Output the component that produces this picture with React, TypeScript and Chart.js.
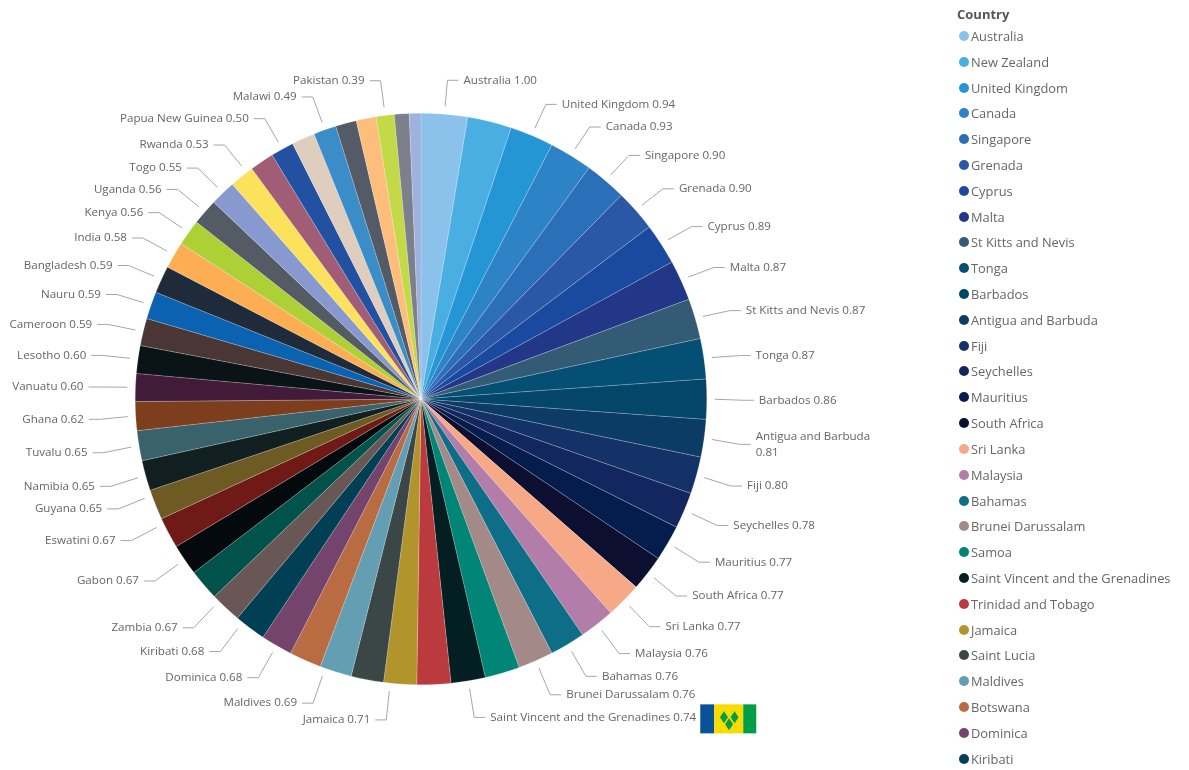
import React, { useEffect, useRef } from "react";
import { Chart, registerables } from "chart.js";

Chart.register(...registerables);

const countries = [
  "Australia", "New Zealand", "United Kingdom", "Canada", "Singapore", "Grenada", "Cyprus", "Malta",
  "St Kitts and Nevis", "Tonga", "Barbados", "Antigua and Barbuda", "Fiji", "Seychelles", "Mauritius",
  "South Africa", "Sri Lanka", "Malaysia", "Bahamas", "Brunei Darussalam", "Samoa",
  "Saint Vincent and the Grenadines", "Trinidad and Tobago", "Jamaica", "Saint Lucia", "Maldives",
  "Botswana", "Dominica", "Kiribati", "Zambia", "Unnamed slice A", "Gabon", "Eswatini", "Guyana",
  "Namibia", "Tuvalu", "Ghana", "Vanuatu", "Lesotho", "Cameroon", "Nauru", "Bangladesh", "India",
  "Kenya", "Uganda", "Togo", "Rwanda", "Unnamed slice B", "Papua New Guinea", "Unnamed slice C",
  "Malawi", "Unnamed slice D", "Unnamed slice E", "Pakistan", "Unnamed slice F", "Unnamed slice G",
];

const scores = [
  1.0, 0.95, 0.94, 0.93, 0.9, 0.9, 0.89, 0.87, 0.87, 0.87, 0.86, 0.81, 0.8, 0.78, 0.77, 0.77, 0.77,
  0.76, 0.76, 0.76, 0.75, 0.74, 0.73, 0.71, 0.7, 0.69, 0.69, 0.68, 0.68, 0.67, 0.67, 0.67, 0.67,
  0.65, 0.65, 0.65, 0.62, 0.6, 0.6, 0.59, 0.59, 0.59, 0.58, 0.56, 0.56, 0.55, 0.53, 0.52, 0.5, 0.5,
  0.49, 0.45, 0.43, 0.39, 0.32, 0.25,
];

const colors = [
  "#8AC2EC", "#4AAEE3", "#2496D6", "#2E82C6", "#2B6FB9", "#2B57A7", "#1A4A9F", "#233789", "#345B75",
  "#064F74", "#04456A", "#0C3B66", "#133267", "#14265F", "#041D4D", "#0C0F30", "#F7A886", "#B27EA9",
  "#0E6E87", "#A38A89", "#008577", "#041F22", "#BA3A3E", "#B2942D", "#3B4647", "#649EB3", "#B96B42",
  "#74446C", "#003F54", "#695755", "#00524A", "#03090C", "#701A18", "#6E5A23", "#121F20", "#3A626C",
  "#7C3E1D", "#421B3B", "#0A1316", "#4A3634", "#0A62B0", "#1F2B3B", "#FDAE53", "#ACD035", "#555B65",
  "#8799CF", "#FBE15C", "#A15D75", "#2351A2", "#DFCDBE", "#3A8DC7", "#545A66", "#FDBE7C", "#C3D948",
  "#7B808B", "#A0B1DF",
];

const unlabelled = [
  "New Zealand", "Samoa", "Trinidad and Tobago", "Saint Lucia", "Botswana", "Unnamed slice A",
  "Unnamed slice B", "Unnamed slice C", "Unnamed slice D", "Unnamed slice E", "Unnamed slice F",
  "Unnamed slice G",
];

// Where the reference spreads crowded labels apart: degrees clockwise from the slice's middle.
const spreadNames = ["Jamaica", "Maldives", "Kiribati", "Zambia", "Eswatini", "Guyana", "Rwanda"];
const spreadDegrees = [2.0, 2.2, 1.8, 1.8, 2.0, 1.9, 1.2];

const legendTitle = "Country";
const legendCountries = countries.slice(0, 29);
const flagCountry = "Saint Vincent and the Grenadines";

const FONT = '"Open Sans", sans-serif';
const LABEL_FONT = `11.6px ${FONT}`;
const TEXT = "#666666";
const LEADER = "#a6a6a6";
const WRAP_RIGHT = 874;

function drawFlag(ctx: CanvasRenderingContext2D, x: number, y: number) {
  const w = 56;
  const h = 29;
  ctx.fillStyle = "#0A5297";
  ctx.fillRect(x, y, 14, h);
  ctx.fillStyle = "#F8DC00";
  ctx.fillRect(x + 14, y, 29, h);
  ctx.fillStyle = "#009E49";
  ctx.fillRect(x + 43, y, w - 43, h);
  const diamond = (cx: number, cy: number) => {
    ctx.beginPath();
    ctx.moveTo(cx, cy - 6);
    ctx.lineTo(cx + 4, cy);
    ctx.lineTo(cx, cy + 6);
    ctx.lineTo(cx - 4, cy);
    ctx.closePath();
    ctx.fill();
  };
  ctx.fillStyle = "#009E49";
  diamond(x + 23.7, y + 13);
  diamond(x + 34.3, y + 13);
  diamond(x + 28.8, y + 20);
}

const outLabels = {
  id: "outLabels",
  afterDatasetsDraw(chart: any) {
    const { ctx } = chart;
    const arcs = chart.getDatasetMeta(0).data;
    ctx.save();
    ctx.font = LABEL_FONT;
    ctx.textBaseline = "middle";
    arcs.forEach((arc: any, i: number) => {
      const name = chart.data.labels[i];
      if (unlabelled.includes(name)) return;
      const spreadAt = spreadNames.indexOf(name);
      const spread = spreadAt >= 0 ? (spreadDegrees[spreadAt] * Math.PI) / 180 : 0;
      const mid = (arc.startAngle + arc.endAngle) / 2 + spread;
      const cos = Math.cos(mid);
      const sin = Math.sin(mid);
      const r = arc.outerRadius;
      const right = cos >= 0;
      const lift = right && sin < 0 ? 2 : 1;
      const x0 = arc.x + (r + 8) * cos;
      const y0 = arc.y + (r + 8) * sin;
      const x1 = arc.x + (r + 36) * cos;
      const y1 = arc.y + (r + 36) * sin + lift;
      const x2 = x1 + (right ? 11 : -11);
      ctx.strokeStyle = LEADER;
      ctx.lineWidth = 1;
      ctx.beginPath();
      ctx.moveTo(x0, y0);
      ctx.lineTo(x1, y1);
      ctx.lineTo(x2, y1);
      ctx.stroke();
      const text = `${name} ${Number(chart.data.datasets[0].data[i]).toFixed(2)}`;
      const tx = x2 + (right ? 5 : -5);
      ctx.fillStyle = TEXT;
      ctx.textAlign = right ? "left" : "right";
      const width = ctx.measureText(text).width;
      if (right && tx + width > WRAP_RIGHT) {
        const words = text.split(" ");
        const tail = words.pop();
        ctx.fillText(words.join(" "), tx, y1 - 8);
        ctx.fillText(tail, tx, y1 + 8);
      } else {
        ctx.fillText(text, tx, y1);
      }
      if (name === flagCountry) {
        drawFlag(ctx, tx + width + 4, y1 - 13);
      }
    });
    ctx.restore();
  },
};

export default function App() {
  const ref = useRef<HTMLCanvasElement | null>(null);
  useEffect(() => {
    if (!ref.current) return;
    const chart = new Chart(ref.current, {
      type: "pie",
      data: {
        labels: countries,
        datasets: [
          {
            data: scores,
            backgroundColor: colors,
            borderColor: "rgba(255,255,255,0.5)",
            borderWidth: 0.4,
          },
        ],
      },
      options: {
        responsive: false,
        animation: false,
        layout: { padding: { left: 0, top: 113, right: 347, bottom: 85 } },
        plugins: { legend: { display: false }, tooltip: { enabled: false } },
      },
      plugins: [outLabels],
    } as any);
    return () => chart.destroy();
  }, []);

  return (
    <div style={{ position: "absolute", left: 0, top: 0, width: 1189, height: 770, overflow: "hidden", background: "#fff" }}>
      <canvas ref={ref} width={1189} height={770} style={{ display: "block" }} />
      <div style={{ position: "absolute", left: 957, top: 5, fontFamily: FONT }}>
        <div style={{ fontSize: 13, fontWeight: 700, color: "#555555", lineHeight: "18px" }}>{legendTitle}</div>
        {legendCountries.map((name) => (
          <div key={name} style={{ display: "flex", alignItems: "center", height: 25.82, whiteSpace: "nowrap", marginLeft: 2, fontSize: 12.85, color: TEXT }}>
            <span
              style={{
                width: 10,
                height: 10,
                borderRadius: "50%",
                marginRight: 2,
                background: colors[countries.indexOf(name)],
                display: "inline-block",
                flex: "none",
              }}
            />
            {name}
          </div>
        ))}
      </div>
    </div>
  );
}
